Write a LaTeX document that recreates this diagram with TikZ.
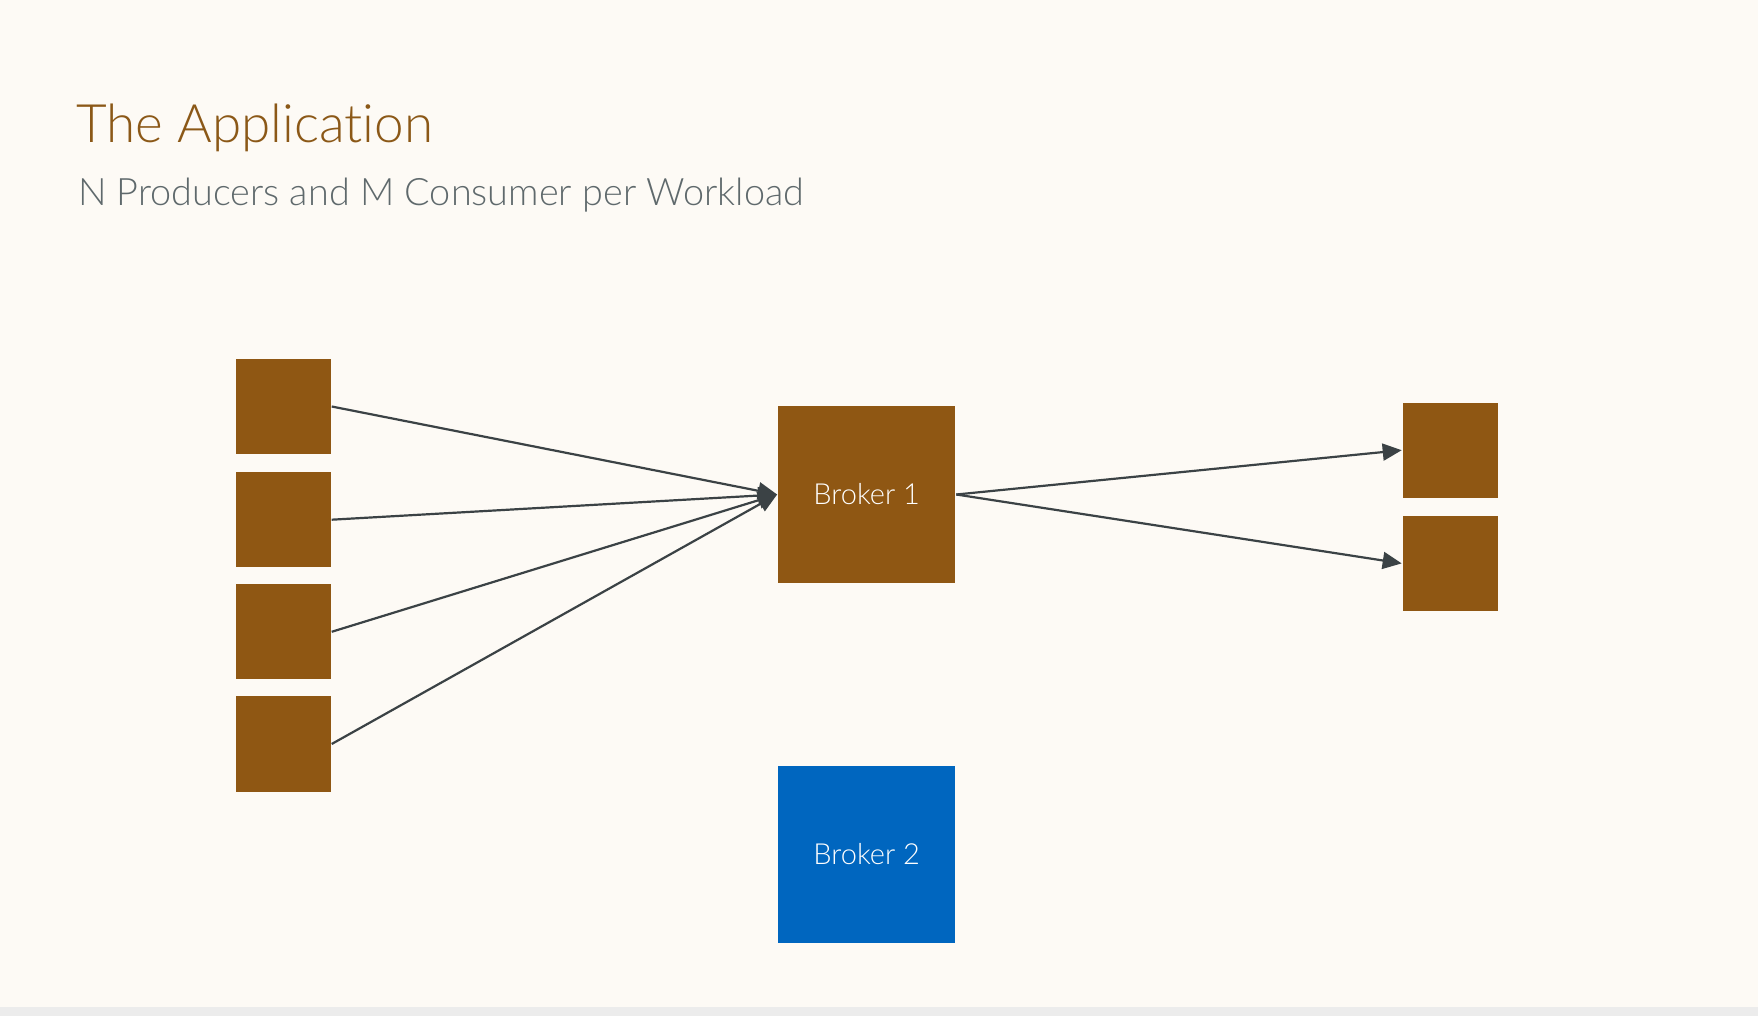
\documentclass[tikz,border=0pt]{standalone}
\usepackage{fontspec}
\setmainfont{Lato}[UprightFont=* Light, Ligatures=NoCommon]
\usetikzlibrary{arrows.meta}

\definecolor{pagebg}{RGB}{253,250,245}
\definecolor{stripgray}{RGB}{236,236,236}
\definecolor{boxbrown}{RGB}{143,87,19}
\definecolor{boxblue}{RGB}{0,102,191}
\definecolor{titlebrown}{RGB}{139,88,23}
\definecolor{subgray}{RGB}{95,105,108}
\definecolor{linkgray}{RGB}{59,66,69}

\tikzset{every picture/.style={line width=1pt}}
\tikzset{
  workbox/.style={fill=boxbrown, inner sep=0pt, minimum width=47.6pt, minimum height=47.6pt},
  brokerbox/.style={inner sep=0pt, minimum width=88.6pt, minimum height=88.6pt, text=white, font=\fontsize{14.5}{17}\selectfont},
  link/.style={draw=linkgray, line width=1.1pt, -{Triangle[length=9.5pt,width=8.5pt]}}
}

\begin{document}
\begin{tikzpicture}[x=0.5pt,y=0.5pt,yscale=-1,xscale=1]
\useasboundingbox (0,0) rectangle (1758,1016);

%Background
\fill [pagebg] (0,0) rectangle (1758,1007);
\fill [stripgray] (0,1007) rectangle (1758,1016);

% Text Node
\draw (75,142.4) node [anchor=base west][inner sep=0pt] [font=\fontsize{26.5}{32}\selectfont, text=titlebrown] (title) {The Application};
% Text Node
\draw (77,206) node [anchor=base west][inner sep=0pt] [font=\fontsize{18.9}{23}\selectfont, text=subgray] (subtitle) {N Producers and M Consumer per Workload};

%Shape: Producers
\draw (283.1,406.5) node [workbox] (prod1) {};
\draw (283.1,519.7) node [workbox] (prod2) {};
\draw (283.1,631.8) node [workbox] (prod3) {};
\draw (283.1,744.0) node [workbox] (prod4) {};

%Shape: Brokers
\draw (866.7,494.5) node [brokerbox, fill=boxbrown] (broker1) {Broker 1};
\draw (866.7,854.4) node [brokerbox, fill=boxblue] (broker2) {Broker 2};

%Shape: Consumers
\draw (1450.3,450.2) node [workbox] (cons1) {};
\draw (1450.3,563.4) node [workbox] (cons2) {};

%Straight Lines
\foreach \p in {1,...,4}
  \draw [link] (prod\p.east) -- (broker1.west);
\foreach \c in {1,2}
  \draw [link] (broker1.east) -- (cons\c.west);

\end{tikzpicture}
\end{document}
